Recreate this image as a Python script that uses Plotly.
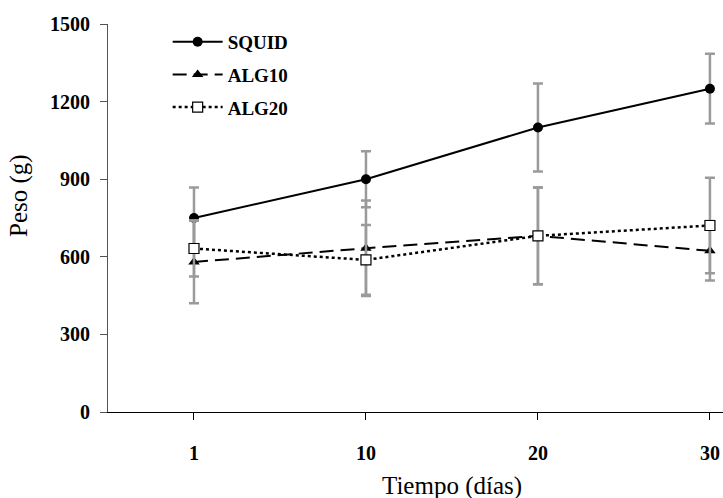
import plotly.graph_objects as go

# Sampling days (category axis) and mean weights with their error margins
dias = ["1", "10", "20", "30"]

squid = [750, 900, 1100, 1250]
squid_err = [118, 108, 170, 135]

alg10 = [580, 633, 681, 623]
alg10_err = [160, 185, 187, 115]

alg20 = [632, 588, 681, 721]
alg20_err = [108, 135, 187, 185]

y_ticks = [0, 300, 600, 900, 1200, 1500]

FONT = "Liberation Serif"
ERR_COLOR = "#9a9a9a"

fig = go.Figure()

series = [
    ("SQUID", squid, squid_err, dict(color="black", width=2, dash="solid"),
     dict(symbol="circle", size=10, color="black")),
    ("ALG10", alg10, alg10_err, dict(color="black", width=2, dash="14px,7px"),
     dict(symbol="triangle-up", size=10, color="black")),
    ("ALG20", alg20, alg20_err, dict(color="black", width=2.5, dash="dot"),
     dict(symbol="square", size=10, color="white", line=dict(color="black", width=1.2))),
]

for name, vals, errs, line, marker in series:
    fig.add_trace(go.Scatter(
        x=dias, y=vals, name=name, mode="lines+markers",
        line=line, marker=marker, legendgroup=name,
        error_y=dict(type="data", array=errs, visible=True,
                     color=ERR_COLOR, thickness=2.5, width=5),
    ))

fig.update_layout(
    width=723, height=498,
    margin=dict(l=108, r=0, t=24, b=86),
    paper_bgcolor="white", plot_bgcolor="white",
    font=dict(family=FONT, size=20, color="black", weight="bold"),
    showlegend=True,
    legend=dict(
        x=0.097, y=1.003, xanchor="left", yanchor="top",
        bgcolor="rgba(0,0,0,0)", font=dict(size=19, family=FONT, weight="bold"),
        traceorder="grouped", tracegroupgap=5, itemwidth=50,
    ),
    xaxis=dict(
        type="category", categoryorder="array", categoryarray=dias,
        range=[-0.5, 3.076], showgrid=False, zeroline=False,
        showline=True, linecolor="black", linewidth=1,
        ticks="outside", ticklen=7, tickcolor="black",
        ticklabelstandoff=16,
        tickfont=dict(size=20, family=FONT, weight="bold"),
    ),
    yaxis=dict(
        range=[0, 1500], tickvals=y_ticks, showgrid=False, zeroline=False,
        showline=True, linecolor="#555555", linewidth=1,
        ticks="outside", ticklen=7, tickcolor="#555555",
        ticklabelstandoff=6,
        tickfont=dict(size=20, family=FONT, weight="bold"),
    ),
    annotations=[
        dict(text="Tiempo (días)", xref="x", yref="paper", x=1.5, y=-0.191,
             xanchor="center", yanchor="middle", showarrow=False,
             font=dict(size=25, family=FONT, weight="normal")),
        dict(text="Peso (g)", xref="paper", yref="paper", x=-0.145, y=0.559,
             xanchor="center", yanchor="middle", showarrow=False, textangle=-90,
             font=dict(size=25, family=FONT, weight="normal")),
    ],
)

fig.write_html("out.html")
